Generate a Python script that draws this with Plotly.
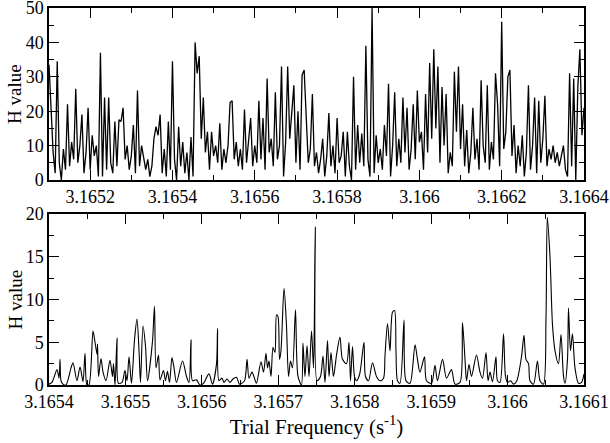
import numpy as np
import plotly.graph_objects as go
from plotly.subplots import make_subplots

# ---------------- Top panel data (uniform trial-frequency grid) ----------------
top_f_start = 3.1651
top_f_step = 5e-6
top_H = [
    33.5, 20, 8, 2, 34.5, 5, 0, 9, 3, 22,
    4, 11, 6, 26.5, 5, 10, 19, 2, 8, 21,
    3, 13, 7, 10, 1, 37, 1, 24, 3, 24,
    5, 2, 17, 4, 17.5, 17, 21, 6, 10, 3,
    7, 16, 2, 26, 4, 10, 7, 3, 6, 1,
    4, 12, 15.5, 13, 19, 2, 9, 1, 17, 3,
    34.5, 6, 0, 15.5, 4, 11, 2, 8, 0, 12.5,
    1, 40, 31, 36, 12, 24, 8, 14, 3, 14,
    7, 10, 5, 16.5, 3, 9, 5, 10, 22.5, 23,
    6, 11, 4, 9, 3, 20.5, 5, 12, 18, 4,
    10, 5, 23, 6, 18, 3, 29.5, 8, 12, 4,
    25.5, 6, 10, 33, 1, 11, 33, 12, 20, 27.5,
    5, 20, 3, 30.5, 32, 18, 5, 9, 25, 4,
    8, 2, 6, 12, 1, 7, 19.5, 4, 10, 2,
    18, 5, 7, 14, 1, 14, 4, 0, 30, 3,
    16, 5, 13.5, 4, 39, 6, 1, 50, 2, 13,
    5, 9, 3, 16, 7, 28, 1, 10, 25.5, 4,
    12, 5, 24, 8, 21, 3, 9, 22, 6, 26,
    11, 14, 3, 25, 8, 34, 12, 38, 15, 33,
    5, 27, 10, 25, 2, 8, 4, 31.5, 14, 33,
    9, 22, 4, 14.5, 2, 8, 21, 6, 12, 3,
    29, 10, 5, 27.5, 3, 11, 6, 31, 22, 4,
    46, 9, 14, 30, 32, 7, 16, 2, 10, 4,
    13, 1, 8, 27.5, 3, 10, 24, 2, 23, 5,
    12, 24.5, 4, 9, 6, 10, 5, 8, 4, 7,
    10, 3, 1, 31, 4, 29.5, 0, 27, 38, 13,
    21,
]
top_freq = top_f_start + top_f_step * np.arange(len(top_H))

top_xticks = [3.1652, 3.1654, 3.1656, 3.1658, 3.1660, 3.1662, 3.1664]
top_xticklabels = ["3.1652", "3.1654", "3.1656", "3.1658", "3.166", "3.1662", "3.1664"]
top_yticks = [0, 10, 20, 30, 40, 50]

# ---------------- Bottom panel data (traced points) ----------------
bot_freq = [
    3.1654000, 3.1654039, 3.1654105, 3.1654131, 3.1654144, 3.1654157, 3.1654183, 3.1654222,
    3.1654288, 3.1654314, 3.1654366, 3.1654406, 3.1654445, 3.1654471, 3.1654497, 3.1654523,
    3.1654576, 3.1654602, 3.1654628, 3.1654635, 3.1654648, 3.1654680, 3.1654707, 3.1654746,
    3.1654798, 3.1654831, 3.1654844, 3.1654864, 3.1654890, 3.1654909, 3.1654955, 3.1654994,
    3.1655021, 3.1655047, 3.1655079, 3.1655119, 3.1655151, 3.1655178, 3.1655197, 3.1655230,
    3.1655263, 3.1655289, 3.1655354, 3.1655380, 3.1655400, 3.1655433, 3.1655452, 3.1655498,
    3.1655524, 3.1655550, 3.1655577, 3.1655609, 3.1655636, 3.1655668, 3.1655747, 3.1655799,
    3.1655832, 3.1655858, 3.1655878, 3.1655930, 3.1655976, 3.1656021, 3.1656093, 3.1656139,
    3.1656192, 3.1656205, 3.1656224, 3.1656264, 3.1656290, 3.1656329, 3.1656368, 3.1656407,
    3.1656453, 3.1656493, 3.1656558, 3.1656591, 3.1656617, 3.1656656, 3.1656695, 3.1656715,
    3.1656774, 3.1656807, 3.1656839, 3.1656859, 3.1656878, 3.1656905, 3.1656931, 3.1656957,
    3.1656977, 3.1656996, 3.1657016, 3.1657035, 3.1657075, 3.1657107, 3.1657134, 3.1657160,
    3.1657186, 3.1657225, 3.1657258, 3.1657304, 3.1657323, 3.1657349, 3.1657376, 3.1657402,
    3.1657435, 3.1657461, 3.1657484, 3.1657507, 3.1657552, 3.1657585, 3.1657611, 3.1657644,
    3.1657664, 3.1657690, 3.1657722, 3.1657762, 3.1657807, 3.1657840, 3.1657893, 3.1657925,
    3.1657945, 3.1657971, 3.1657997, 3.1658023, 3.1658063, 3.1658121, 3.1658141, 3.1658180,
    3.1658233, 3.1658285, 3.1658331, 3.1658377, 3.1658396, 3.1658429, 3.1658462, 3.1658494,
    3.1658521, 3.1658540, 3.1658560, 3.1658592, 3.1658645, 3.1658671, 3.1658723, 3.1658789,
    3.1658821, 3.1658854, 3.1658913, 3.1658939, 3.1659005, 3.1659050, 3.1659083, 3.1659149,
    3.1659201, 3.1659266, 3.1659312, 3.1659378, 3.1659410, 3.1659443, 3.1659463, 3.1659495,
    3.1659528, 3.1659593, 3.1659639, 3.1659672, 3.1659718, 3.1659744, 3.1659770, 3.1659803,
    3.1659848, 3.1659868, 3.1659901, 3.1659947, 3.1659973, 3.1659999, 3.1660038, 3.1660078,
    3.1660117, 3.1660182, 3.1660215, 3.1660241, 3.1660274, 3.1660293, 3.1660339, 3.1660391,
    3.1660424, 3.1660470, 3.1660503, 3.1660520, 3.1660555, 3.1660588, 3.1660621, 3.1660666,
    3.1660699, 3.1660732, 3.1660751, 3.1660784, 3.1660797, 3.1660823, 3.1660849, 3.1660882,
    3.1660928, 3.1660967, 3.1661000,
]
bot_H = [
    0.1, 0.3, 1.8, 0.8, 3.0, 0.5, 0.1, 0.0,
    2.0, 2.6, 0.5, 2.1, 0.4, 3.7, 0.0, 0.0,
    6.3, 5.0, 3.6, 4.8, 1.0, 3.1, 1.5, 0.5,
    2.9, 1.0, 2.5, 0.0, 5.5, 0.2, 0.3, 1.7,
    0.5, 3.3, 0.2, 5.3, 7.7, 4.0, 0.3, 6.9,
    4.5, 0.5, 5.1, 9.2, 2.0, 3.5, 0.6, 1.7,
    0.5, 1.6, 0.3, 3.2, 2.0, 0.3, 2.8, 1.0,
    0.3, 5.3, 0.5, 0.6, 0.0, 0.2, 1.3, 0.1,
    2.5, 6.6, 0.5, 0.8, 0.3, 0.7, 0.3, 0.7,
    0.9, 0.1, 0.5, 3.0, 0.8, 1.5, 0.6, 0.2,
    2.7, 1.5, 3.7, 2.0, 2.8, 1.0, 4.4, 3.8,
    8.2, 8.0, 3.0, 4.0, 11.3, 7.0, 1.0, 2.8,
    2.0, 8.8, 1.0, 0.0, 4.9, 1.0, 4.6, 1.0,
    6.3, 2.0, 18.5, 0.5, 1.0, 3.4, 0.3, 5.2,
    1.0, 3.8, 1.0, 3.5, 5.6, 3.0, 2.5, 5.0,
    0.5, 4.5, 1.0, 0.5, 1.2, 5.0, 1.0, 0.5,
    2.6, 1.0, 0.5, 0.8, 3.4, 7.2, 4.0, 8.5,
    8.7, 4.0, 0.5, 0.2, 7.6, 0.5, 0.2, 4.7,
    3.0, 1.5, 3.3, 0.5, 0.2, 2.3, 0.5, 3.0,
    0.8, 1.8, 0.1, 0.3, 7.3, 3.0, 0.5, 2.4,
    1.0, 3.5, 1.5, 0.8, 3.8, 0.5, 1.5, 0.4,
    3.3, 0.5, 0.3, 6.0, 1.0, 0.3, 0.5, 0.1,
    0.4, 3.3, 5.8, 3.0, 2.5, 0.5, 0.1, 2.8,
    0.5, 0.1, 8.0, 19.6, 15.0, 7.0, 4.0, 2.5,
    5.9, 1.0, 0.2, 3.0, 9.0, 4.0, 6.0, 2.0,
    0.2, 0.3, 1.3,
]

bot_xticks = [3.1654, 3.1655, 3.1656, 3.1657, 3.1658, 3.1659, 3.1660, 3.1661]
bot_xticklabels = ["3.1654", "3.1655", "3.1656", "3.1657", "3.1658", "3.1659", "3.166", "3.1661"]
bot_yticks = [0, 5, 10, 15, 20]

y_title = "H value"
x_title = "Trial Frequency (s<sup>-1</sup>)"

FONT = "Liberation Serif"

fig = make_subplots(rows=2, cols=1, vertical_spacing=0.09)

fig.add_trace(go.Scatter(x=top_freq, y=top_H, mode="lines",
                         line=dict(color="black", width=1.3), showlegend=False),
              row=1, col=1)
fig.add_trace(go.Scatter(x=bot_freq, y=bot_H, mode="lines",
                         line=dict(color="black", width=1.1, shape="spline", smoothing=0.8),
                         showlegend=False),
              row=2, col=1)

axis_common = dict(
    showgrid=False, zeroline=False, showline=True, linecolor="black", linewidth=1.5,
    mirror="ticks", ticks="inside", ticklen=10, tickwidth=1, tickcolor="black",
    tickfont=dict(family=FONT, size=18, color="black"), automargin=False,
    ticklabeloverflow="allow",
)

fig.update_xaxes(**axis_common)
fig.update_yaxes(**axis_common)

fig.update_xaxes(range=[3.1651, 3.1664], tickmode="array", tickvals=top_xticks,
                 ticktext=top_xticklabels,
                 minor=dict(tickmode="linear", tick0=3.1651, dtick=0.0001, ticklen=5,
                            tickcolor="black", ticks="inside"),
                 row=1, col=1)
fig.update_yaxes(range=[0, 50], tickmode="array", tickvals=top_yticks, domain=[0.5438, 1.0],
                 minor=dict(tickmode="linear", tick0=0, dtick=5, ticklen=5,
                            tickcolor="black", ticks="inside"),
                 row=1, col=1)
fig.update_xaxes(range=[3.1654, 3.1661], tickmode="array", tickvals=bot_xticks,
                 ticktext=bot_xticklabels,
                 minor=dict(tickmode="linear", tick0=3.1654, dtick=0.00005, ticklen=5,
                            tickcolor="black", ticks="inside"),
                 title=dict(text=x_title,
                            font=dict(family=FONT, size=21, color="black"), standoff=6),
                 row=2, col=1)
fig.update_yaxes(range=[0, 20], tickmode="array", tickvals=bot_yticks, domain=[0.0, 0.4536],
                 minor=dict(tickmode="linear", tick0=0, dtick=2.5, ticklen=5,
                            tickcolor="black", ticks="inside"),
                 row=2, col=1)

# y-axis titles as rotated text placed just left of the tick labels
for yref in ["y domain", "y2 domain"]:
    fig.add_annotation(text=y_title, textangle=-90, xref="paper", x=0, xanchor="center",
                       xshift=-34, yref=yref, y=0.5, yanchor="middle", showarrow=False,
                       font=dict(family=FONT, size=19, color="black"))

fig.update_layout(
    template="none",
    width=610, height=443,
    margin=dict(l=49, r=26, t=8, b=58),
    paper_bgcolor="white", plot_bgcolor="white",
    font=dict(family=FONT, color="black"),
    showlegend=False,
)

fig.write_html("out.html", config={"displayModeBar": False},
               post_script="document.body.style.margin='0';")
